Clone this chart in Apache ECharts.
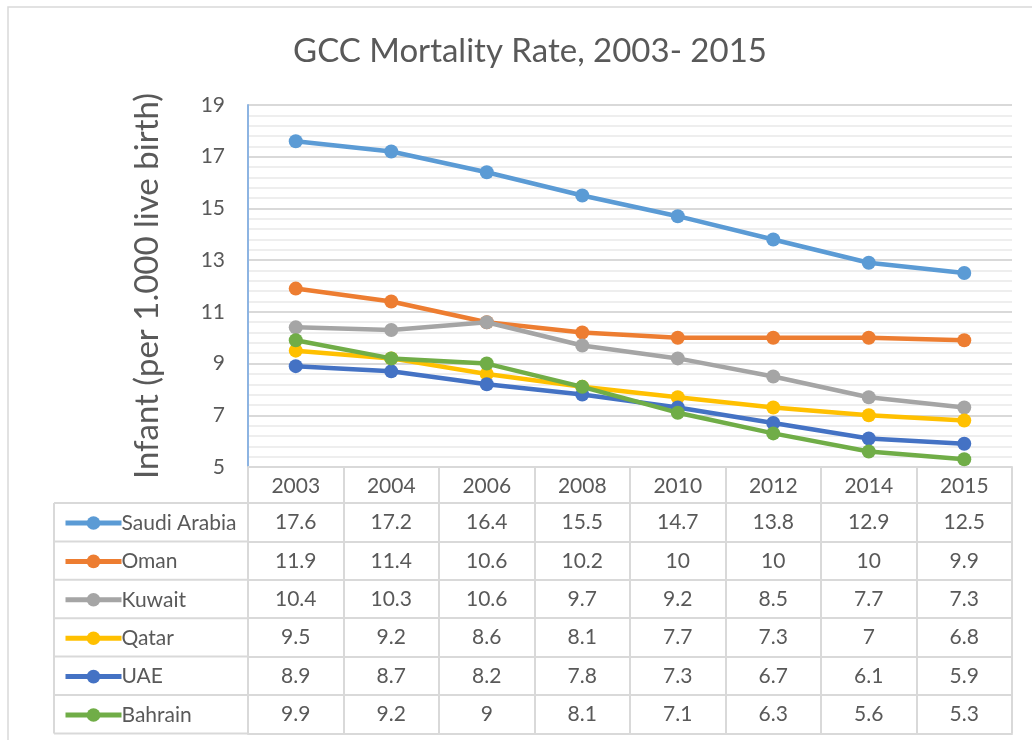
<!DOCTYPE html>
<html>
<head>
    <meta charset="utf-8">
    <title>GCC Mortality Rate</title>
    <style type="text/css">
        * { margin: 0; padding: 0; }
        body { background: #fff; }
        #chart { width: 1032px; height: 740px; }
    </style>
</head>
<body>
<div id="chart"></div>
<script src="https://cdn.jsdelivr.net/npm/echarts@6/dist/echarts.min.js"></script>
<script type="text/javascript">
    // data
    var years = ['2003', '2004', '2006', '2008', '2010', '2012', '2014', '2015'];
    var countries = ['Saudi Arabia', 'Oman', 'Kuwait', 'Qatar', 'UAE', 'Bahrain'];
    var saudiArabia = [17.6, 17.2, 16.4, 15.5, 14.7, 13.8, 12.9, 12.5];
    var oman = [11.9, 11.4, 10.6, 10.2, 10, 10, 10, 9.9];
    var kuwait = [10.4, 10.3, 10.6, 9.7, 9.2, 8.5, 7.7, 7.3];
    var qatar = [9.5, 9.2, 8.6, 8.1, 7.7, 7.3, 7, 6.8];
    var uae = [8.9, 8.7, 8.2, 7.8, 7.3, 6.7, 6.1, 5.9];
    var bahrain = [9.9, 9.2, 9, 8.1, 7.1, 6.3, 5.6, 5.3];
    var rows = [saudiArabia, oman, kuwait, qatar, uae, bahrain];
    var colors = ['#5b9bd5', '#ed7d31', '#a5a5a5', '#ffc000', '#4472c4', '#70ad47'];

    var font = 'Lato';
    var textColor = '#595959';
    var lineGray = '#d9d9d9';
    var cellFont = 21;

    // layout of the plot + data table
    var plotLeft = 248, plotRight = 1012, plotTop = 105, plotBottom = 467;
    var headerH = 36, rowH = 38.4;
    var tableLeft = 54;
    var tableBottom = plotBottom + headerH + rowH * rows.length;

    var chart = echarts.init(document.getElementById('chart'));

    var xAxes = [{
        type: 'category',
        data: years,
        boundaryGap: true,
        position: 'bottom',
        axisLine: { show: true, lineStyle: { color: lineGray, width: 2 } },
        axisTick: { show: true, interval: 0, length: tableBottom - plotBottom, lineStyle: { color: lineGray, width: 2 } },
        axisLabel: { interval: 0, margin: 9, color: textColor, fontFamily: font, fontSize: cellFont }
    }];
    rows.forEach(function (r, i) {
        xAxes.push({
            type: 'category',
            data: years,
            position: 'bottom',
            offset: headerH + rowH * i,
            axisLine: { show: true, lineStyle: { color: lineGray, width: 2 } },
            axisTick: { show: false },
            axisLabel: {
                interval: 0, margin: 9, color: textColor, fontFamily: font, fontSize: cellFont,
                formatter: function (v, idx) { return String(r[idx]); }
            }
        });
    });
    xAxes.push({
        type: 'category',
        data: years,
        position: 'bottom',
        offset: tableBottom - plotBottom,
        axisLine: { show: true, lineStyle: { color: lineGray, width: 2 } },
        axisTick: { show: false },
        axisLabel: { show: false }
    });

    var tableLines = [];
    for (var i = 0; i <= rows.length; i++) {
        var y = plotBottom + headerH + rowH * i;
        tableLines.push({
            type: 'line',
            shape: { x1: tableLeft, y1: y, x2: plotLeft, y2: y },
            style: { stroke: lineGray, lineWidth: 2 }
        });
    }
    tableLines.push({
        type: 'line',
        shape: { x1: tableLeft, y1: plotBottom + headerH, x2: tableLeft, y2: tableBottom },
        style: { stroke: lineGray, lineWidth: 2 }
    });
    tableLines.push({
        type: 'rect',
        shape: { x: 8, y: 7, width: 1040, height: 760 },
        style: { fill: 'none', stroke: lineGray, lineWidth: 1.5 },
        z: -1
    });

    var option = {
        backgroundColor: '#fff',
        animation: false,
        color: colors,
        title: {
            text: 'GCC Mortality Rate, 2003- 2015',
            left: 525,
            top: 30,
            textAlign: 'center',
            textStyle: { color: textColor, fontFamily: font, fontSize: 33, fontWeight: 'normal' }
        },
        legend: {
            orient: 'vertical',
            left: 58,
            top: plotBottom + headerH + 4,
            itemWidth: 56,
            itemHeight: 17,
            itemGap: rowH - 22,
            textStyle: { color: textColor, fontFamily: font, fontSize: cellFont, lineHeight: 22, padding: [0, 0, 0, -5] },
            lineStyle: { width: 5 },
            data: countries
        },
        grid: {
            left: plotLeft,
            right: 1032 - plotRight,
            top: plotTop,
            bottom: 740 - plotBottom
        },
        xAxis: xAxes,
        yAxis: {
            type: 'value',
            min: 5,
            max: 19,
            interval: 2,
            name: 'Infant (per 1.000 live birth)',
            nameLocation: 'middle',
            nameGap: 84,
            nameTextStyle: { color: textColor, fontFamily: font, fontSize: 33 },
            axisLine: { show: true, lineStyle: { color: '#8db4e2', width: 2 } },
            axisTick: { show: false },
            axisLabel: { margin: 23, color: textColor, fontFamily: font, fontSize: 21 },
            splitLine: { show: true, lineStyle: { color: lineGray, width: 2 } },
            minorTick: { show: false, splitNumber: 5 },
            minorSplitLine: { show: true, lineStyle: { color: '#eeeeee', width: 2 } }
        },
        graphic: tableLines,
        series: countries.map(function (name, i) {
            return {
                name: name,
                type: 'line',
                data: rows[i],
                symbol: 'circle',
                symbolSize: 14,
                lineStyle: { width: 4.5 },
                z: 3 + i
            };
        })
    };

    chart.setOption(option);
</script>
</body>
</html>
